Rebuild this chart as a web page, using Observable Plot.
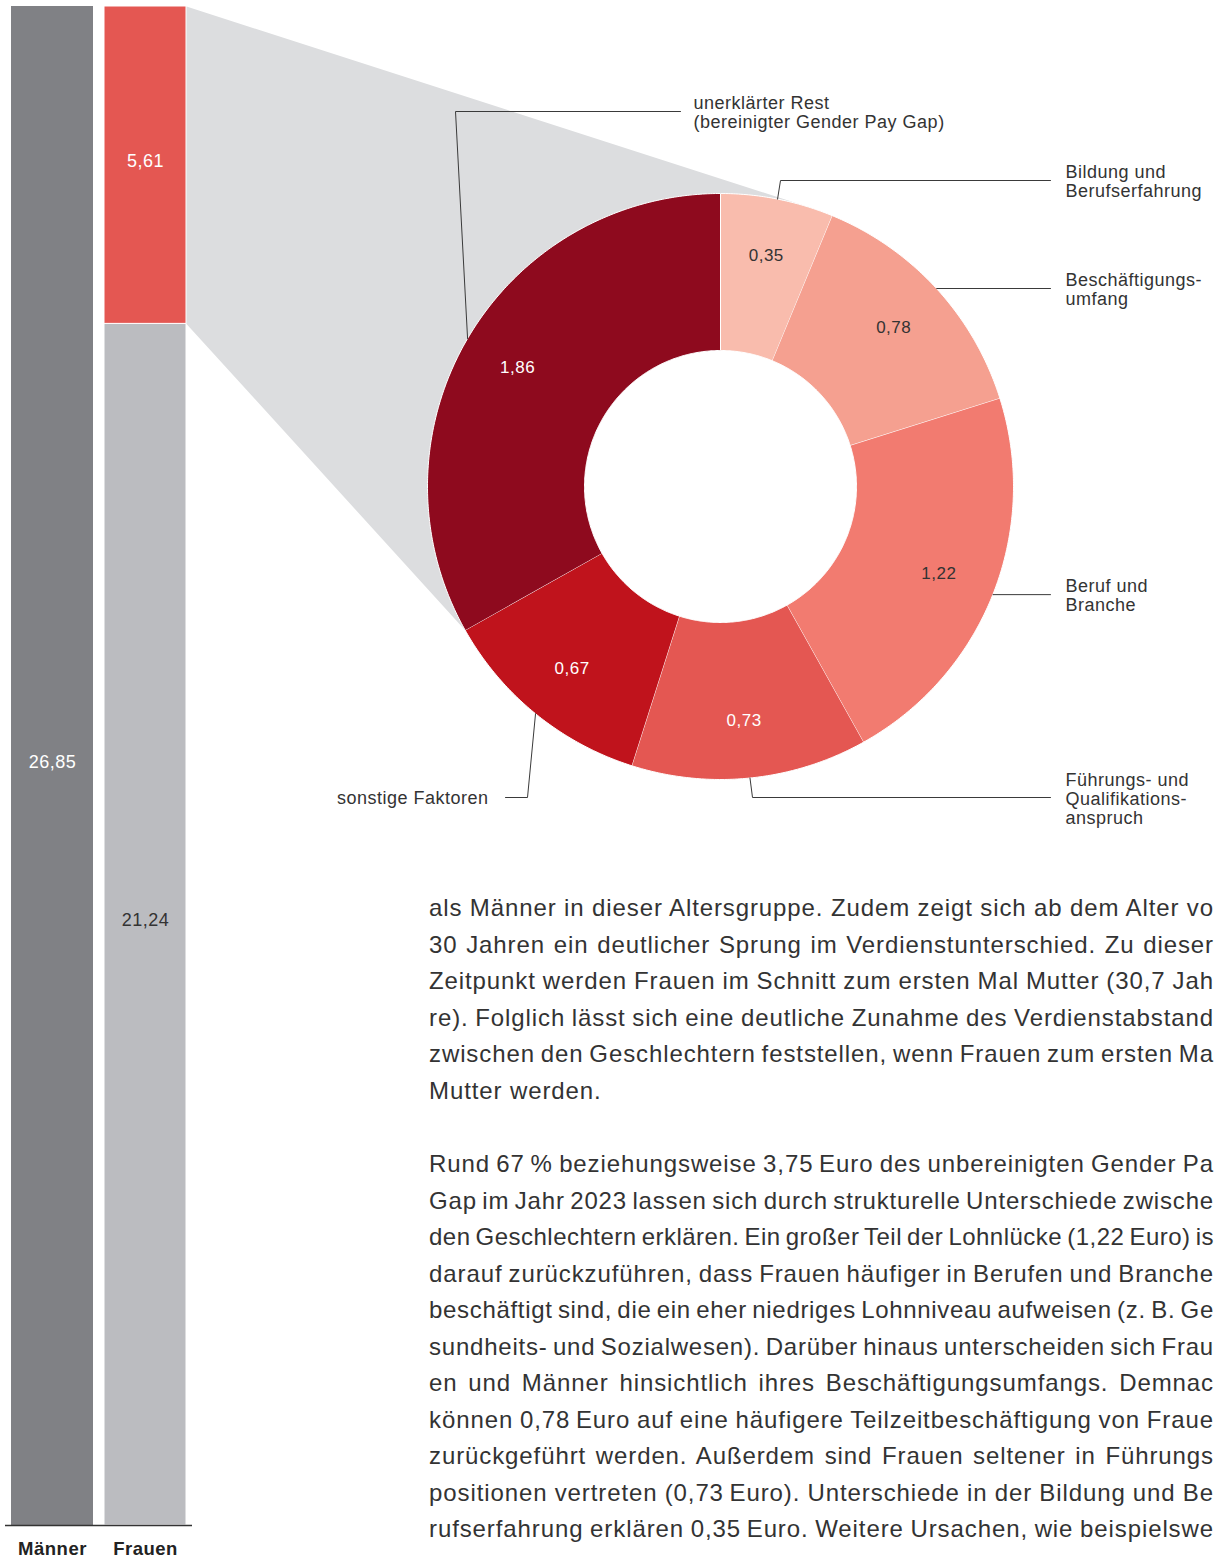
<!DOCTYPE html>
<html><head><meta charset="utf-8">
<script src="https://cdn.jsdelivr.net/npm/d3@7"></script>
<script src="https://cdn.jsdelivr.net/npm/@observablehq/plot@0.6"></script>
<style>
html,body{margin:0;padding:0;background:#fff;overflow:hidden}
#page{position:relative;width:1214px;height:1557px;overflow:hidden;background:#fff;font-family:"Liberation Sans",Arial,Helvetica,sans-serif}
#bars,#donut{position:absolute;left:0;top:0}
.tl{position:absolute;left:429px;white-space:pre;font-size:24px;letter-spacing:0.9px;line-height:36px;color:#333}
</style></head><body>
<div id="page"><div id="bars"></div><div id="donut"></div><div id="text"></div></div>
<script>
// ---------- data ----------
const genders = ["Männer", "Frauen"];
const barGender = ["Männer", "Frauen", "Frauen"];
const barValues = [26.85, 21.24, 5.61];
const barColors = ["#808185", "#bbbcc0", "#e45752"];
const barLabelColors = ["#ffffff", "#333333", "#ffffff"];

const factors = [
  "Bildung und\nBerufserfahrung",
  "Beschäftigungs-\numfang",
  "Beruf und\nBranche",
  "Führungs- und\nQualifikations-\nanspruch",
  "sonstige Faktoren",
  "unerklärter Rest\n(bereinigter Gender Pay Gap)"
];
const factorValues = [0.35, 0.78, 1.22, 0.73, 0.67, 1.86];
const factorColors = ["#f9bcad", "#f5a090", "#f27b70", "#e45752", "#c0131c", "#8e0a1e"];
const factorLabelColors = ["#333333", "#333333", "#333333", "#ffffff", "#ffffff", "#ffffff"];

const para1 = [
  "als Männer in dieser Altersgruppe. Zudem zeigt sich ab dem Alter vo",
  "30 Jahren ein deutlicher Sprung im Verdienstunterschied. Zu dieser",
  "Zeitpunkt werden Frauen im Schnitt zum ersten Mal Mutter (30,7 Jah",
  "re). Folglich lässt sich eine deutliche Zunahme des Verdienstabstand",
  "zwischen den Geschlechtern feststellen, wenn Frauen zum ersten Ma",
  "Mutter werden."
];
const para2 = [
  "Rund 67\u2009% beziehungsweise 3,75\u2009Euro des unbereinigten Gender Pa",
  "Gap im Jahr 2023 lassen sich durch strukturelle Unterschiede zwische",
  "den Geschlechtern erklären. Ein großer Teil der Lohnlücke (1,22 Euro) is",
  "darauf zurückzuführen, dass Frauen häufiger in Berufen und Branche",
  "beschäftigt sind, die ein eher niedriges Lohnniveau aufweisen (z.\u2009B. Ge",
  "sundheits- und Sozialwesen). Darüber hinaus unterscheiden sich Frau",
  "en und Männer hinsichtlich ihres Beschäftigungsumfangs. Demnac",
  "können 0,78\u2009Euro auf eine häufigere Teilzeitbeschäftigung von Fraue",
  "zurückgeführt werden. Außerdem sind Frauen seltener in Führungs",
  "positionen vertreten (0,73\u2009Euro). Unterschiede in der Bildung und Be",
  "rufserfahrung erklären 0,35\u2009Euro. Weitere Ursachen, wie beispielswe"
];

// ---------- layout ----------
const FONT = '"Liberation Sans", Arial, Helvetica, sans-serif';
const cx = 720, cy = 486, R = 293, rIn = 136;
const fmt = v => v.toFixed(2).replace(".", ",");

// ---------- bars ----------
const barRows = barValues.map((v, i) => ({gender: barGender[i], value: v, color: barColors[i], lc: barLabelColors[i]}));
const cum = {};
barRows.forEach(r => { const s = cum[r.gender] || 0; r.y1 = s; r.y2 = s + r.value; cum[r.gender] = r.y2; });
const barMax = d3.max(barRows, r => r.y2);

const barPlot = Plot.plot({
  width: 196, height: 1557,
  marginLeft: 10, marginRight: 10, marginTop: 6, marginBottom: 32,
  x: {domain: genders, paddingInner: 0.12, paddingOuter: 0, axis: null},
  y: {domain: [0, barMax], axis: null},
  color: {type: "identity"},
  style: {background: "transparent", fontFamily: FONT, overflow: "visible", letterSpacing: "0.5px"},
  marks: [
    Plot.barY(barRows.filter(r => r.gender === "Männer"), {x: "gender", y1: "y1", y2: "y2", fill: "color"}),
    Plot.barY(barRows.filter(r => r.gender === "Frauen"), {x: "gender", y1: "y1", y2: "y2", fill: "color", stroke: "white", strokeWidth: 1}),
    Plot.text(barRows, {x: "gender", y: r => (r.y1 + r.y2) / 2, text: r => fmt(r.value), fill: "lc", fontSize: 18, dy: -4}),
    Plot.ruleY([0], {stroke: "#333", strokeWidth: 1.6, insetLeft: -5, insetRight: -6}),
    Plot.text(genders, {x: d => d, frameAnchor: "bottom", dy: 29, text: d => d, fontSize: 18.5, fontWeight: "bold", fill: "#222"})
  ]
});
document.getElementById("bars").appendChild(barPlot);

// ---------- donut ----------
const ux = px => (px - cx) / R, uy = py => (py - cy) / R;
const TAU = Math.PI * 2;
const total = d3.sum(factorValues);
let acc = 0;
const slices = factorValues.map((v, i) => {
  const a0 = acc / total * TAU; acc += v; const a1 = acc / total * TAU;
  return {name: factors[i], value: v, a0, a1, mid: (a0 + a1) / 2, color: factorColors[i], lc: factorLabelColors[i]};
});
function arcPts(a0, a1, r) {
  const n = Math.max(2, Math.ceil(Math.abs(a1 - a0) / (Math.PI / 360)));
  return d3.range(n + 1).map(k => { const a = a0 + (a1 - a0) * k / n; return [Math.sin(a) * r, -Math.cos(a) * r]; });
}
// wedge from the Frauen red segment to the donut
const bx = barPlot.scale("x"), by = barPlot.scale("y");
const xRight = bx.apply("Frauen") + bx.bandwidth;
const frauen = barRows.filter(r => r.gender === "Frauen");
const gapRow = frauen[frauen.length - 1];
const P1 = [ux(xRight), uy(by.apply(gapRow.y2))];
const P2 = [ux(xRight), uy(by.apply(gapRow.y1))];
const d1 = Math.hypot(P1[0], P1[1]);
const aT = Math.atan2(P1[0], -P1[1]) + Math.acos(1 / d1);
const aEnd = slices[slices.length - 1].a0 - TAU;
const wedge = [P1, ...arcPts(aT, aEnd, 1), P2];

// leader lines (annotation layout in px)
const leaderLayout = [
  {elbow: [780, 180], end: 1050, anchor: "start", gap: 15},
  {elbow: null, end: 1050, anchor: "start", gap: 15},
  {elbow: null, end: 1050, anchor: "start", gap: 15},
  {elbow: [752, 797], end: 1050, anchor: "start", gap: 15},
  {elbow: [527, 797], end: 505, anchor: "end", gap: 17},
  {elbow: [455, 111], end: 680, anchor: "start", gap: 13}
];
const leaders = [], labels = [];
slices.forEach((s, i) => {
  const L = leaderLayout[i];
  const e = [Math.sin(s.mid), -Math.cos(s.mid)];
  const el = L.elbow ? [ux(L.elbow[0]), uy(L.elbow[1])] : e;
  const en = [ux(L.end), el[1]];
  leaders.push({k: i, x: e[0], y: e[1]}, {k: i, x: el[0], y: el[1]}, {k: i, x: en[0], y: en[1]});
  labels.push({text: s.name, anchor: L.anchor, x: L.anchor === "start" ? ux(L.end + L.gap) : ux(L.end - L.gap), y: el[1]});
});
const lr = 0.802;

const donutPlot = Plot.plot({
  width: 1214, height: 1557, margin: 0,
  x: {domain: [-1, 1], range: [cx - R, cx + R], axis: null},
  y: {domain: [-1, 1], range: [cy - R, cy + R], axis: null},
  color: {type: "identity"},
  style: {background: "transparent", fontFamily: FONT, overflow: "visible", letterSpacing: "0.5px"},
  marks: [
    Plot.line(wedge, {fill: "#dcdddf", stroke: "none"}),
    ...slices.map(s => Plot.line([...arcPts(s.a0, s.a1, 1), ...arcPts(s.a1, s.a0, rIn / R)],
      {fill: s.color, stroke: "white", strokeWidth: 1})),
    Plot.line(leaders, {x: "x", y: "y", z: "k", stroke: "#3a3a3a", strokeWidth: 1}),
    Plot.text(slices, {x: s => Math.sin(s.mid) * lr, y: s => -Math.cos(s.mid) * lr, text: s => fmt(s.value), fill: "lc", fontSize: 17}),
    Plot.text(labels.filter(l => l.anchor === "start"), {x: "x", y: "y", text: "text", textAnchor: "start", fontSize: 18, lineHeight: 1.06, fill: "#333", dy: 1}),
    Plot.text(labels.filter(l => l.anchor === "end"), {x: "x", y: "y", text: "text", textAnchor: "end", fontSize: 18, lineHeight: 1.06, fill: "#333"})
  ]
});
document.getElementById("donut").appendChild(donutPlot);

// ---------- body text ----------
const textBox = document.getElementById("text");
const TEXT_W = 1214 - 429, LH = 36.5, BASE_LS = 0.9, MIN_WS = -2;
function addPara(lines, firstCenter, justifyLast) {
  lines.forEach((t, i) => {
    const div = document.createElement("div");
    div.className = "tl";
    div.textContent = t;
    div.style.top = (firstCenter + i * LH - 18) + "px";
    textBox.appendChild(div);
    if (i < lines.length - 1 || justifyLast) {
      const w = div.getBoundingClientRect().width;
      const n = (t.match(/ /g) || []).length;
      const extra = TEXT_W - w;
      if (n > 0 && extra / n >= MIN_WS) {
        div.style.wordSpacing = (extra / n) + "px";
      } else {
        div.style.wordSpacing = MIN_WS + "px";
        const rest = extra - MIN_WS * n;
        div.style.letterSpacing = (BASE_LS + rest / t.length) + "px";
      }
    }
  });
}
addPara(para1, 908, false);
addPara(para2, 1164, true);
</script>
</body></html>
